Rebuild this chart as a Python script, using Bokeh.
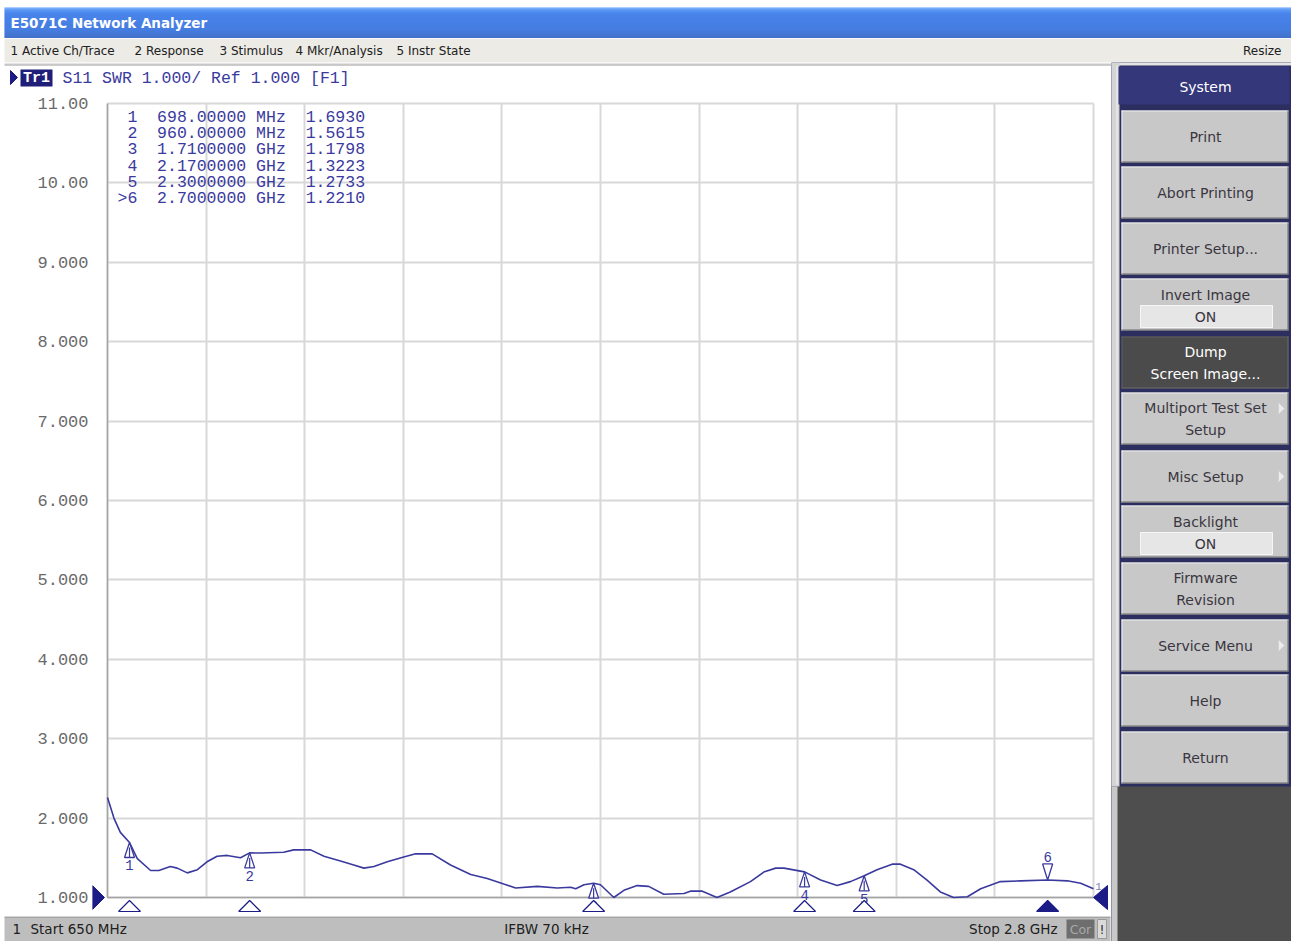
import numpy as np
from bokeh.plotting import figure
from bokeh.layouts import column, row
from bokeh.models import Range1d, FixedTicker, Grid
from bokeh.core.properties import value
from bokeh.embed import file_html
from bokeh.resources import INLINE

# ---------------- data ----------------
F_START, F_STOP = 650, 2800          # MHz
SWR_BOTTOM, SWR_TOP = 1.0, 11.0
IFBW_KHZ = 70

freq_mhz = [650, 664, 678, 698, 715, 744, 762, 787, 802, 824, 846, 867, 889, 911, 940,
            960, 984, 1034, 1056, 1093, 1122, 1158, 1187, 1209, 1231, 1260, 1296, 1322,
            1358, 1398, 1442, 1478, 1514, 1540, 1587, 1631, 1660, 1671, 1689, 1710, 1725,
            1754, 1776, 1805, 1830, 1863, 1907, 1921, 1947, 1979, 2008, 2052, 2081, 2107,
            2125, 2170, 2205, 2241, 2270, 2300, 2328, 2361, 2379, 2408, 2437, 2466, 2495,
            2525, 2554, 2597, 2641, 2700, 2743, 2772, 2800]
swr_values = [2.26, 2.00, 1.82, 1.693, 1.49, 1.34, 1.34, 1.39, 1.37, 1.31, 1.35, 1.45, 1.52,
              1.53, 1.50, 1.5615, 1.56, 1.57, 1.60, 1.60, 1.52, 1.46, 1.41, 1.37, 1.39, 1.45,
              1.51, 1.55, 1.55, 1.41, 1.29, 1.24, 1.17, 1.12, 1.14, 1.12, 1.13, 1.11, 1.16,
              1.1798, 1.16, 1.00, 1.09, 1.15, 1.14, 1.04, 1.05, 1.08, 1.08, 1.00, 1.07, 1.20,
              1.32, 1.37, 1.37, 1.3223, 1.22, 1.15, 1.20, 1.2733, 1.35, 1.42, 1.42, 1.35,
              1.22, 1.07, 1.00, 1.01, 1.11, 1.20, 1.21, 1.221, 1.21, 1.18, 1.11]

marker_ids = [1, 2, 3, 4, 5, 6]
marker_freq_mhz = [698, 960, 1710, 2170, 2300, 2700]
marker_swr = [1.6930, 1.5615, 1.1798, 1.3223, 1.2733, 1.2210]
active_marker = 6

swr_ticks = [1, 2, 3, 4, 5, 6, 7, 8, 9, 10, 11]
swr_tick_labels = ["1.000", "2.000", "3.000", "4.000", "5.000", "6.000",
                   "7.000", "8.000", "9.000", "10.00", "11.00"]

window_title = "E5071C Network Analyzer"
menu_items = ["1 Active Ch/Trace", "2 Response", "3 Stimulus", "4 Mkr/Analysis", "5 Instr State"]
trace_header = "S11 SWR 1.000/ Ref 1.000 [F1]"
softkey_title = "System"
softkey_labels = [["Print"], ["Abort Printing"], ["Printer Setup..."], ["Invert Image"],
                  ["Dump", "Screen Image..."], ["Multiport Test Set", "Setup"], ["Misc Setup"],
                  ["Backlight"], ["Firmware", "Revision"], ["Service Menu"], ["Help"], ["Return"]]
softkey_state = [None, None, None, "ON", None, None, None, "ON", None, None, None, None]
softkey_submenu = [False, False, False, False, False, True, True, False, False, True, False, False]
softkey_pressed = "Dump"

# ---------------- styles / layout ----------------
NAVY = "#3A3A9E"
DARK_NAVY = "#1C1C86"
MONO = value("Liberation Mono")
SANS = value("DejaVu Sans")
NB = "\u00a0"

TOTAL_W = 1291
TITLE_H, MENU_H = 38, 24
CHART_W = 1111
HEAD_H, PLOT_H, STATUS_H = 34, 820, 25
PANEL_W = TOTAL_W - CHART_W
PANEL_H = HEAD_H + PLOT_H + STATUS_H


def plain_fig(w, h, bg):
    f = figure(width=w, height=h, x_range=Range1d(0, w), y_range=Range1d(h, 0),
               x_axis_location=None, y_axis_location=None, toolbar_location=None,
               output_backend="svg", title=None, min_border=0, frame_align=False,
               background_fill_color=bg, border_fill_color=bg, outline_line_color=None)
    f.grid.visible = False
    return f


# ---------------- window title bar ----------------
title_fig = plain_fig(TOTAL_W, TITLE_H, "white")
BAR_TOP = 7
bar_rows = np.arange(TITLE_H - BAR_TOP)
stops_y = [0, 2, 6, 22, 31]
stops_c = [(0x5A, 0x9C, 0xFF), (0x26, 0x76, 0xF2), (0x0C, 0x5C, 0xE4), (0x08, 0x52, 0xD6), (0x05, 0x40, 0xB4)]
cols = []
for r in bar_rows:
    rgb = [int(np.interp(r, stops_y, [c[k] for c in stops_c])) for k in range(3)]
    cols.append("#%02X%02X%02X" % tuple(rgb))
title_fig.quad(left=4, right=TOTAL_W, top=bar_rows + BAR_TOP, bottom=bar_rows + BAR_TOP + 1,
               fill_color=cols, line_color=None)
title_fig.text(x=[10], y=[22.5], text=[window_title], text_font=SANS, text_font_size="13.5px",
               text_font_style="bold", text_color="white", text_baseline="middle", text_align="left")

# ---------------- menu bar ----------------
menu_fig = plain_fig(TOTAL_W, MENU_H, "white")
menu_fig.quad(left=4, right=TOTAL_W, top=0, bottom=MENU_H, fill_color="#ECEBE6", line_color=None)
menu_x = [10, 134, 219, 295, 396]
menu_fig.text(x=menu_x, y=[12] * len(menu_items), text=menu_items, text_font=SANS,
              text_font_size="12px", text_color="#202020", text_baseline="middle")
menu_fig.text(x=[1281], y=[12], text=["Resize"], text_font=SANS, text_font_size="12px",
              text_color="#202020", text_baseline="middle", text_align="right")

# ---------------- trace header ----------------
head_fig = plain_fig(CHART_W, HEAD_H, "white")
head_fig.quad(left=4, right=CHART_W, top=0, bottom=2, fill_color="#E4E4E4", line_color=None)
head_fig.line([4, CHART_W], [2.5, 2.5], line_color="#9C9C9C", line_width=1)
head_fig.patch([10, 10, 17], [8, 22, 15], fill_color=DARK_NAVY, line_color=DARK_NAVY)
head_fig.quad(left=20, right=52, top=7, bottom=24, fill_color="#1F1F7A", line_color=None)
head_fig.text(x=[36], y=[15.5], text=["Tr1"], text_font=MONO, text_font_size="15px",
              text_font_style="bold", text_color="white", text_align="center", text_baseline="middle")
head_fig.text(x=[62], y=[15.5], text=[trace_header.replace(" ", NB)], text_font=MONO,
              text_font_size="16.5px", text_color=NAVY, text_baseline="middle")

# ---------------- measurement chart ----------------
PX_PER_MHZ = 986 / (F_STOP - F_START)
PX_PER_SWR = 794 / (SWR_TOP - SWR_BOTTOM)


def dfx(px):
    return px / PX_PER_MHZ


def dsy(px):
    return px / PX_PER_SWR


X0 = F_START - dfx(15)
chart = figure(width=CHART_W, height=PLOT_H,
               x_range=Range1d(X0, F_STOP + dfx(16)),
               y_range=Range1d(SWR_BOTTOM - dsy(18), SWR_TOP + dsy(6)),
               x_axis_location=None, y_axis_location="left", title=None,
               toolbar_location=None, output_backend="svg", frame_align=False,
               min_border_left=92, min_border_right=2, min_border_top=1, min_border_bottom=1,
               background_fill_color="white", border_fill_color="white", outline_line_color=None)
chart.grid.visible = False
grid_f = [F_START + i * (F_STOP - F_START) / 10 for i in range(11)]
chart.add_layout(Grid(dimension=0, ticker=FixedTicker(ticks=grid_f),
                      cross_bounds=(SWR_BOTTOM, SWR_TOP),
                      grid_line_color="#D8D8D8", grid_line_width=2))
chart.add_layout(Grid(dimension=1, ticker=FixedTicker(ticks=swr_ticks),
                      cross_bounds=(F_START, F_STOP),
                      grid_line_color="#D8D8D8", grid_line_width=2))
chart.line([F_START, F_START], [SWR_BOTTOM, SWR_TOP], line_color="#A4A4A4", line_width=1.5)
chart.line([F_START, F_STOP], [SWR_BOTTOM, SWR_BOTTOM], line_color="#A4A4A4", line_width=1.5)

ax = chart.yaxis[0]
ax.ticker = FixedTicker(ticks=swr_ticks)
ax.major_label_overrides = {t: l for t, l in zip(swr_ticks, swr_tick_labels)}
ax.axis_line_color = None
ax.major_tick_line_color = None
ax.minor_tick_line_color = None
ax.major_tick_in = 0
ax.major_tick_out = 0
ax.major_label_standoff = 4
ax.major_label_text_font = "Liberation Mono"
ax.major_label_text_font_size = "17px"
ax.major_label_text_color = "#6A6A6A"

# trace
chart.line(freq_mhz, swr_values, line_color=NAVY, line_width=1.6)

# marker symbols on the trace
tri_xs, tri_ys, stem_x, stem_y0, stem_y1, num_x, num_y, num_t = [], [], [], [], [], [], [], []
for mid, f, v in zip(marker_ids, marker_freq_mhz, marker_swr):
    if mid == active_marker:
        tri_xs.append([f - dfx(5), f + dfx(5), f])
        tri_ys.append([v + dsy(16), v + dsy(16), v])
        num_y.append(v + dsy(23))
    else:
        tri_xs.append([f - dfx(5), f + dfx(5), f])
        tri_ys.append([v - dsy(15), v - dsy(15), v])
        stem_x.append(f)
        stem_y0.append(v - dsy(5))
        stem_y1.append(v - dsy(15))
        num_y.append(v - dsy(23))
    num_x.append(f)
    num_t.append(str(mid))
chart.patches(tri_xs, tri_ys, fill_color="white", fill_alpha=0.6, line_color=NAVY, line_width=1.3)
chart.segment(x0=stem_x, y0=stem_y0, x1=stem_x, y1=stem_y1, line_color=NAVY, line_width=1.2)
chart.text(x=num_x, y=num_y, text=num_t, text_font=MONO, text_font_size="14px",
           text_color=NAVY, text_align="center", text_baseline="middle")

# marker indicators on the stimulus axis
b_xs = [[f - dfx(11), f + dfx(11), f] for f in marker_freq_mhz]
b_ys = [[SWR_BOTTOM - dsy(14), SWR_BOTTOM - dsy(14), SWR_BOTTOM - dsy(3)] for _ in marker_freq_mhz]
b_fill = [DARK_NAVY if m == active_marker else "white" for m in marker_ids]
chart.patches(b_xs, b_ys, fill_color=b_fill, line_color=DARK_NAVY, line_width=1.2)

# reference level pointers
chart.patch([X0, X0, F_START - dfx(3)], [SWR_BOTTOM + dsy(12), SWR_BOTTOM - dsy(12), SWR_BOTTOM],
            fill_color=DARK_NAVY, line_color=DARK_NAVY)
chart.patch([F_STOP + dfx(14), F_STOP + dfx(14), F_STOP],
            [SWR_BOTTOM + dsy(12), SWR_BOTTOM - dsy(12), SWR_BOTTOM],
            fill_color=DARK_NAVY, line_color=DARK_NAVY)
chart.text(x=[F_STOP + dfx(5)], y=[SWR_BOTTOM + dsy(11)], text=["1"], text_font=MONO,
           text_font_size="11px", text_color="#8080B8", text_align="center", text_baseline="middle")


# marker table
def fmt_stim(f):
    return "%.5f MHz" % f if f < 1000 else "%.7f GHz" % (f / 1000.0)


rows_txt = []
for mid, f, v in zip(marker_ids, marker_freq_mhz, marker_swr):
    prefix = ">" if mid == active_marker else " "
    rows_txt.append(("%s%d  %s  %.4f" % (prefix, mid, fmt_stim(f), v)).replace(" ", NB))
chart.text(x=[F_START + dfx(10)] * len(rows_txt),
           y=[SWR_TOP - dsy(14 + 16.2 * i) for i in range(len(rows_txt))],
           text=rows_txt, text_font=MONO, text_font_size="16.5px", text_color=NAVY,
           text_baseline="middle", text_align="left")

# ---------------- status bar ----------------
status = plain_fig(CHART_W, STATUS_H, "white")
status.quad(left=4, right=CHART_W - 1, top=0, bottom=STATUS_H, fill_color="#BEBEBE", line_color=None)
status.line([4, CHART_W - 1], [0.5, 0.5], line_color="#8A8A8A", line_width=1)
SY = 12.5
status.text(x=[12, 30], y=[SY, SY], text=["1", "Start %g MHz" % F_START], text_font=SANS,
            text_font_size="13.5px", text_color="#202020", text_baseline="middle")
status.text(x=[546], y=[SY], text=["IFBW %d kHz" % IFBW_KHZ], text_font=SANS,
            text_font_size="13.5px", text_color="#202020", text_baseline="middle", text_align="center")
status.text(x=[1057], y=[SY], text=["Stop %g GHz" % (F_STOP / 1000.0)], text_font=SANS,
            text_font_size="13.5px", text_color="#202020", text_baseline="middle", text_align="right")
status.quad(left=1066, right=1094, top=3, bottom=22, fill_color="#6E6E6E", line_color=None)
status.text(x=[1080], y=[SY], text=["Cor"], text_font=SANS, text_font_size="12.5px",
            text_color="#A8A8A8", text_baseline="middle", text_align="center")
status.quad(left=1097, right=1106, top=3, bottom=22, fill_color="#DADADA", line_color="#9A9A9A")
status.text(x=[1101.5], y=[SY], text=["!"], text_font=SANS, text_font_size="12.5px",
            text_color="#303030", text_baseline="middle", text_align="center")

# ---------------- softkey panel ----------------
panel = plain_fig(PANEL_W, PANEL_H, "#2B2E5E")
panel.quad(left=0, right=PANEL_W, top=724, bottom=PANEL_H, fill_color="#4E4E4E", line_color=None)
panel.quad(left=0, right=PANEL_W, top=0, bottom=3, fill_color="#E4E4E4", line_color=None)
panel.quad(left=0, right=8, top=0, bottom=724, fill_color="#D4D4D4", line_color=None)
panel.line([5.5, 5.5], [3, 722], line_color="#F4F4F4", line_width=1)
panel.quad(left=0, right=6, top=724, bottom=PANEL_H, fill_color="#C8C8C8", line_color=None)
panel.quad(left=7, right=PANEL_W - 2, top=4, bottom=42, fill_color="#34377A", line_color=None)
panel.text(x=[94], y=[24], text=[softkey_title], text_font=SANS, text_font_size="14px",
           text_color="white", text_align="center", text_baseline="middle")

btn_tops = [48, 104, 160, 216, 274, 330, 388, 443, 500, 557, 612, 669]
btn_h = 52
BL, BR, CX = 10, 177, 94
for top, labels, state, sub in zip(btn_tops, softkey_labels, softkey_state, softkey_submenu):
    bot = top + btn_h
    pressed = labels[0] == softkey_pressed
    face = "#4B4B4B" if pressed else "#C8C8C8"
    tcol = "white" if pressed else "#3A3640"
    panel.quad(left=BL, right=BR, top=top, bottom=bot, fill_color=face, line_color=None)
    panel.line([BL, BR], [top + 0.5, top + 0.5], line_color="#EEEEEE" if not pressed else "#5E5E5E")
    panel.line([BL + 0.5, BL + 0.5], [top, bot], line_color="#EEEEEE" if not pressed else "#5E5E5E")
    panel.line([BL, BR], [bot - 0.5, bot - 0.5], line_color="#6A6A6A")
    panel.line([BR - 0.5, BR - 0.5], [top, bot], line_color="#6A6A6A")
    if state is not None:
        panel.text(x=[CX], y=[top + 16], text=[labels[0]], text_font=SANS, text_font_size="14px",
                   text_color=tcol, text_align="center", text_baseline="middle")
        panel.quad(left=29, right=161, top=top + 27, bottom=top + 49, fill_color="#E6E6E6",
                   line_color="#F6F6F6")
        panel.text(x=[CX], y=[top + 38.5], text=[state], text_font=SANS, text_font_size="14px",
                   text_color="#3A3640", text_align="center", text_baseline="middle")
    elif len(labels) == 2:
        panel.text(x=[CX, CX], y=[top + 15.5, top + 37.5], text=labels, text_font=SANS,
                   text_font_size="14px", text_color=tcol, text_align="center", text_baseline="middle")
    else:
        panel.text(x=[CX], y=[top + btn_h / 2], text=labels, text_font=SANS, text_font_size="14px",
                   text_color=tcol, text_align="center", text_baseline="middle")
    if sub:
        cy = top + (16 if len(labels) == 2 else btn_h / 2)
        panel.patch([167, 167, 173], [cy - 6, cy + 6, cy], fill_color="#ECECEC", line_color="#D0D0D0")

# ---------------- assemble ----------------
left_col = column(head_fig, chart, status, spacing=0)
middle = row(left_col, panel, spacing=0)
root = column(title_fig, menu_fig, middle, spacing=0)

open("out.html", "w").write(file_html(root, INLINE))
